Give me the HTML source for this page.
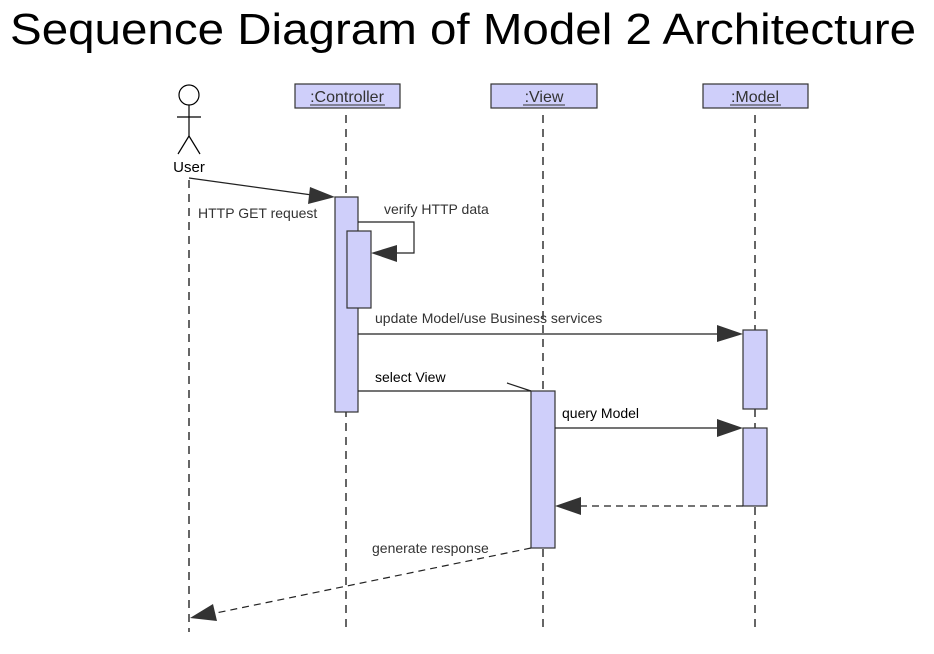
<!DOCTYPE html>
<html><head><meta charset="utf-8"><style>
body{margin:0;background:#fff;width:934px;height:654px;overflow:hidden}
svg{display:block}
text{font-family:"Liberation Sans",Arial,sans-serif}
</style></head><body>
<svg width="934" height="654" viewBox="0 0 934 654" xmlns="http://www.w3.org/2000/svg">
<text x="10" y="44" font-size="44" textLength="906" lengthAdjust="spacingAndGlyphs" fill="#000">Sequence Diagram of Model 2 Architecture</text>
<g stroke="#000" stroke-width="1.2" fill="none">
<circle cx="189" cy="95" r="10"/>
<line x1="189" y1="105" x2="189" y2="136"/>
<line x1="177" y1="117" x2="201" y2="117"/>
<line x1="189" y1="136" x2="178" y2="154"/>
<line x1="189" y1="136" x2="200" y2="154"/>
</g>
<text x="189" y="172" font-size="15" text-anchor="middle">User</text>
<g stroke="#000" stroke-width="1.2" stroke-dasharray="8,6">
<line x1="189" y1="180" x2="189" y2="632"/>
<line x1="346" y1="115" x2="346" y2="632"/>
<line x1="543" y1="115" x2="543" y2="632"/>
<line x1="755" y1="115" x2="755" y2="632"/>
</g>
<g fill="#cfcffa" stroke="#333" stroke-width="1.2">
<rect x="295" y="84" width="105" height="24"/>
<rect x="491" y="84" width="106" height="24"/>
<rect x="703" y="84" width="105" height="24"/>
<rect x="335" y="197" width="23" height="215"/>
<rect x="347" y="231" width="24" height="77"/>
<rect x="743" y="330" width="24" height="79"/>
<rect x="743" y="428" width="24" height="78"/>
<rect x="531" y="391" width="24" height="157"/>
</g>
<g font-size="16" text-anchor="middle" fill="#333">
<text x="347" y="102">:Controller</text>
<text x="544" y="102">:View</text>
<text x="755" y="102">:Model</text>
</g>
<g stroke="#333" stroke-width="1">
<line x1="310" y1="105" x2="385" y2="105"/>
<line x1="523" y1="105" x2="565" y2="105"/>
<line x1="730" y1="105" x2="781" y2="105"/>
</g>
<g stroke="#222" stroke-width="1.2" fill="none">
<line x1="189" y1="178" x2="312" y2="195"/>
<polyline points="358,222 414,222 414,253 397,253"/>
<line x1="358" y1="334" x2="718" y2="334"/>
<line x1="358" y1="391" x2="531" y2="391"/>
<line x1="507" y1="383" x2="531" y2="391"/>
<line x1="555" y1="428" x2="718" y2="428"/>
<line x1="743" y1="506" x2="580" y2="506" stroke-dasharray="7,5"/>
<line x1="531" y1="548" x2="216" y2="613" stroke-dasharray="7,5"/>
</g>
<g fill="#333">
<polygon points="335,197 310,187 308,204"/>
<polygon points="371,253 397,245 397,262"/>
<polygon points="743,334 717,325 717,342"/>
<polygon points="743,428 717,419 717,437"/>
<polygon points="555,506 581,497 581,515"/>
<polygon points="190,618 213,604 217,621"/>
</g>
<g font-size="14" fill="#333">
<text x="198" y="218">HTTP GET request</text>
<text x="384" y="214">verify HTTP data</text>
<text x="375" y="323">update Model/use Business services</text>
<text x="375" y="382" fill="#000">select View</text>
<text x="562" y="418" fill="#000">query Model</text>
<text x="372" y="553">generate response</text>
</g>
</svg>
</body></html>
